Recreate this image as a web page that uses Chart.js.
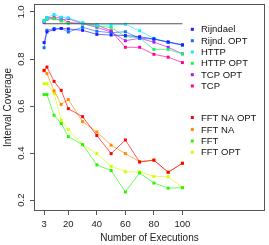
<!DOCTYPE html>
<html>
<head>
<meta charset="utf-8">
<script src="https://cdn.jsdelivr.net/npm/chart.js@4.4.1/dist/chart.umd.min.js"></script>
<style>
  html, body { margin: 0; padding: 0; background: #fff; }
  #wrap { width: 269px; height: 245px; }
</style>
</head>
<body>
<div id="wrap"><canvas id="chart" width="269" height="245"></canvas></div>
<script>
// number of executions on the x axis
const executions = [3, 5, 10, 15, 20, 30, 40, 50, 60, 70, 80, 90, 100]

// interval coverage per series
const rijndael = [0.870, 0.915, 0.925, 0.930, 0.928, 0.922, 0.905, 0.902, 0.900, 0.895, 0.885, 0.873, 0.860]
const rijndOpt = [0.848, 0.922, 0.930, 0.930, 0.915, 0.935, 0.918, 0.912, 0.916, 0.888, 0.885, 0.871, 0.860]
const http     = [0.960, 0.976, 0.989, 0.978, 0.975, 0.955, 0.945, 0.945, 0.948, 0.920, 0.888, 0.871, 0.860]
const httpOpt  = [0.965, 0.970, 0.972, 0.962, 0.952, 0.950, 0.940, 0.935, 0.895, 0.890, 0.841, 0.841, 0.822]
const tcpOpt   = [0.955, 0.970, 0.972, 0.965, 0.972, 0.950, 0.935, 0.915, 0.878, 0.888, 0.872, 0.850, 0.822]
const tcp      = [0.962, 0.976, 0.976, 0.975, 0.955, 0.951, 0.945, 0.920, 0.850, 0.850, 0.820, 0.808, 0.785]
const fftNaOpt = [0.752, 0.766, 0.705, 0.667, 0.589, 0.555, 0.475, 0.398, 0.456, 0.362, 0.370, 0.319, 0.357]
const fftNa    = [0.750, 0.738, 0.665, 0.607, 0.628, 0.534, 0.490, 0.434, 0.398, 0.364, 0.371, 0.318, 0.357]
const fft      = [0.649, 0.649, 0.561, 0.526, 0.470, 0.436, 0.350, 0.326, 0.235, 0.316, 0.273, 0.251, 0.253]
const fftOpt   = [0.695, 0.695, 0.653, 0.541, 0.500, 0.436, 0.398, 0.344, 0.321, 0.320, 0.301, 0.300, 0.253]

// nominal coverage reference line
const nominalX = [3, 100]
const nominalY = [0.95, 0.95]

// tick labels
const xTicks = [3, 20, 40, 60, 80, 100]
const yTicks = [0.2, 0.4, 0.6, 0.8, 1.0]

const FONT = "'Liberation Sans', Arial, Helvetica, sans-serif"
const AXIS = '#555'

const series = [
  { label: 'Rijndael',    data: rijndael, color: '30,30,255' },
  { label: 'Rijnd. OPT',  data: rijndOpt, color: '20,110,255' },
  { label: 'HTTP',        data: http,     color: '20,235,255' },
  { label: 'HTTP OPT',    data: httpOpt,  color: '20,245,90' },
  { label: 'TCP OPT',     data: tcpOpt,   color: '180,20,255' },
  { label: 'TCP',         data: tcp,      color: '255,0,150' },
  { label: 'FFT NA OPT',  data: fftNaOpt, color: '255,0,0' },
  { label: 'FFT NA',      data: fftNa,    color: '255,140,0' },
  { label: 'FFT',         data: fft,      color: '40,245,0' },
  { label: 'FFT OPT',     data: fftOpt,   color: '210,255,0' }
]

const datasets = series.map(s => ({
  label: s.label,
  data: executions.map((x, i) => ({ x: x, y: s.data[i] })),
  borderColor: 'rgba(' + s.color + ',0.65)',
  backgroundColor: 'rgb(' + s.color + ')',
  pointBackgroundColor: 'rgb(' + s.color + ')',
  borderWidth: 1,
  pointStyle: 'rect',
  pointRadius: 2.1,
  pointBorderWidth: 0,
  tension: 0
}))

datasets.unshift({
  label: 'nominal',
  data: nominalX.map((x, i) => ({ x: x, y: nominalY[i] })),
  borderColor: AXIS,
  borderWidth: 1,
  pointRadius: 0
})

// legend groups sit inside the plot, split in two blocks
const legendRows = [29.3, 40.7, 52, 63.3, 74.7, 86, 117.5, 129.5, 141, 152.3]

const decorations = {
  id: 'decorations',
  afterDraw(chart) {
    const ctx = chart.ctx
    const area = chart.chartArea
    const y = chart.scales.y
    ctx.save()
    // box around the plot
    ctx.strokeStyle = AXIS
    ctx.lineWidth = 1
    ctx.strokeRect(Math.round(area.left) + 0.5, Math.round(area.top) + 0.5,
      Math.round(area.right - area.left) - 1, Math.round(area.bottom - area.top) - 1)

    // y tick labels, turned like R draws them
    ctx.fillStyle = '#222'
    ctx.font = '9.5px ' + FONT
    ctx.textAlign = 'center'
    ctx.textBaseline = 'middle'
    yTicks.forEach(v => {
      ctx.save()
      ctx.translate(21, y.getPixelForValue(v))
      ctx.rotate(-Math.PI / 2)
      ctx.fillText(v.toFixed(1), 0, 0)
      ctx.restore()
    })

    // legend
    ctx.textAlign = 'left'
    series.forEach((s, i) => {
      const ly = legendRows[i]
      ctx.fillStyle = 'rgb(' + s.color + ')'
      ctx.fillRect(190.8, ly - 1.5, 3, 3)
      ctx.fillStyle = '#111'
      ctx.fillText(s.label, 201, ly + 0.5)
    })
    ctx.restore()
  }
}

new Chart(document.getElementById('chart'), {
  type: 'line',
  data: { datasets: datasets },
  options: {
    responsive: false,
    animation: false,
    events: [],
    layout: { padding: { top: 2, right: 4, left: 0, bottom: 0 } },
    plugins: {
      legend: { display: false },
      tooltip: { enabled: false }
    },
    scales: {
      x: {
        type: 'linear',
        min: -4.07,
        max: 157.9,
        afterBuildTicks: scale => { scale.ticks = xTicks.map(v => ({ value: v })) },
        afterFit: scale => { scale.height = 34 },
        border: { display: false },
        grid: { drawOnChartArea: false, drawTicks: true, tickLength: 4, color: AXIS },
        ticks: {
          autoSkip: false,
          maxRotation: 0,
          padding: 4,
          color: '#222',
          font: { family: FONT, size: 9.5 },
          callback: v => String(v)
        },
        title: {
          display: true,
          text: 'Number of Executions',
          color: '#222',
          font: { family: FONT, size: 10 },
          padding: { top: 0, bottom: 1 }
        }
      },
      y: {
        type: 'linear',
        min: 0.154,
        max: 1.034,
        afterBuildTicks: scale => { scale.ticks = yTicks.map(v => ({ value: v })) },
        afterFit: scale => { scale.width = 34 },
        border: { display: false },
        grid: { drawOnChartArea: false, drawTicks: true, tickLength: 4, color: AXIS },
        ticks: { display: false },
        title: {
          display: true,
          text: 'Interval Coverage',
          color: '#222',
          font: { family: FONT, size: 10 },
          padding: { top: 2, bottom: 0 }
        }
      }
    }
  },
  plugins: [decorations]
})
</script>
</body>
</html>
